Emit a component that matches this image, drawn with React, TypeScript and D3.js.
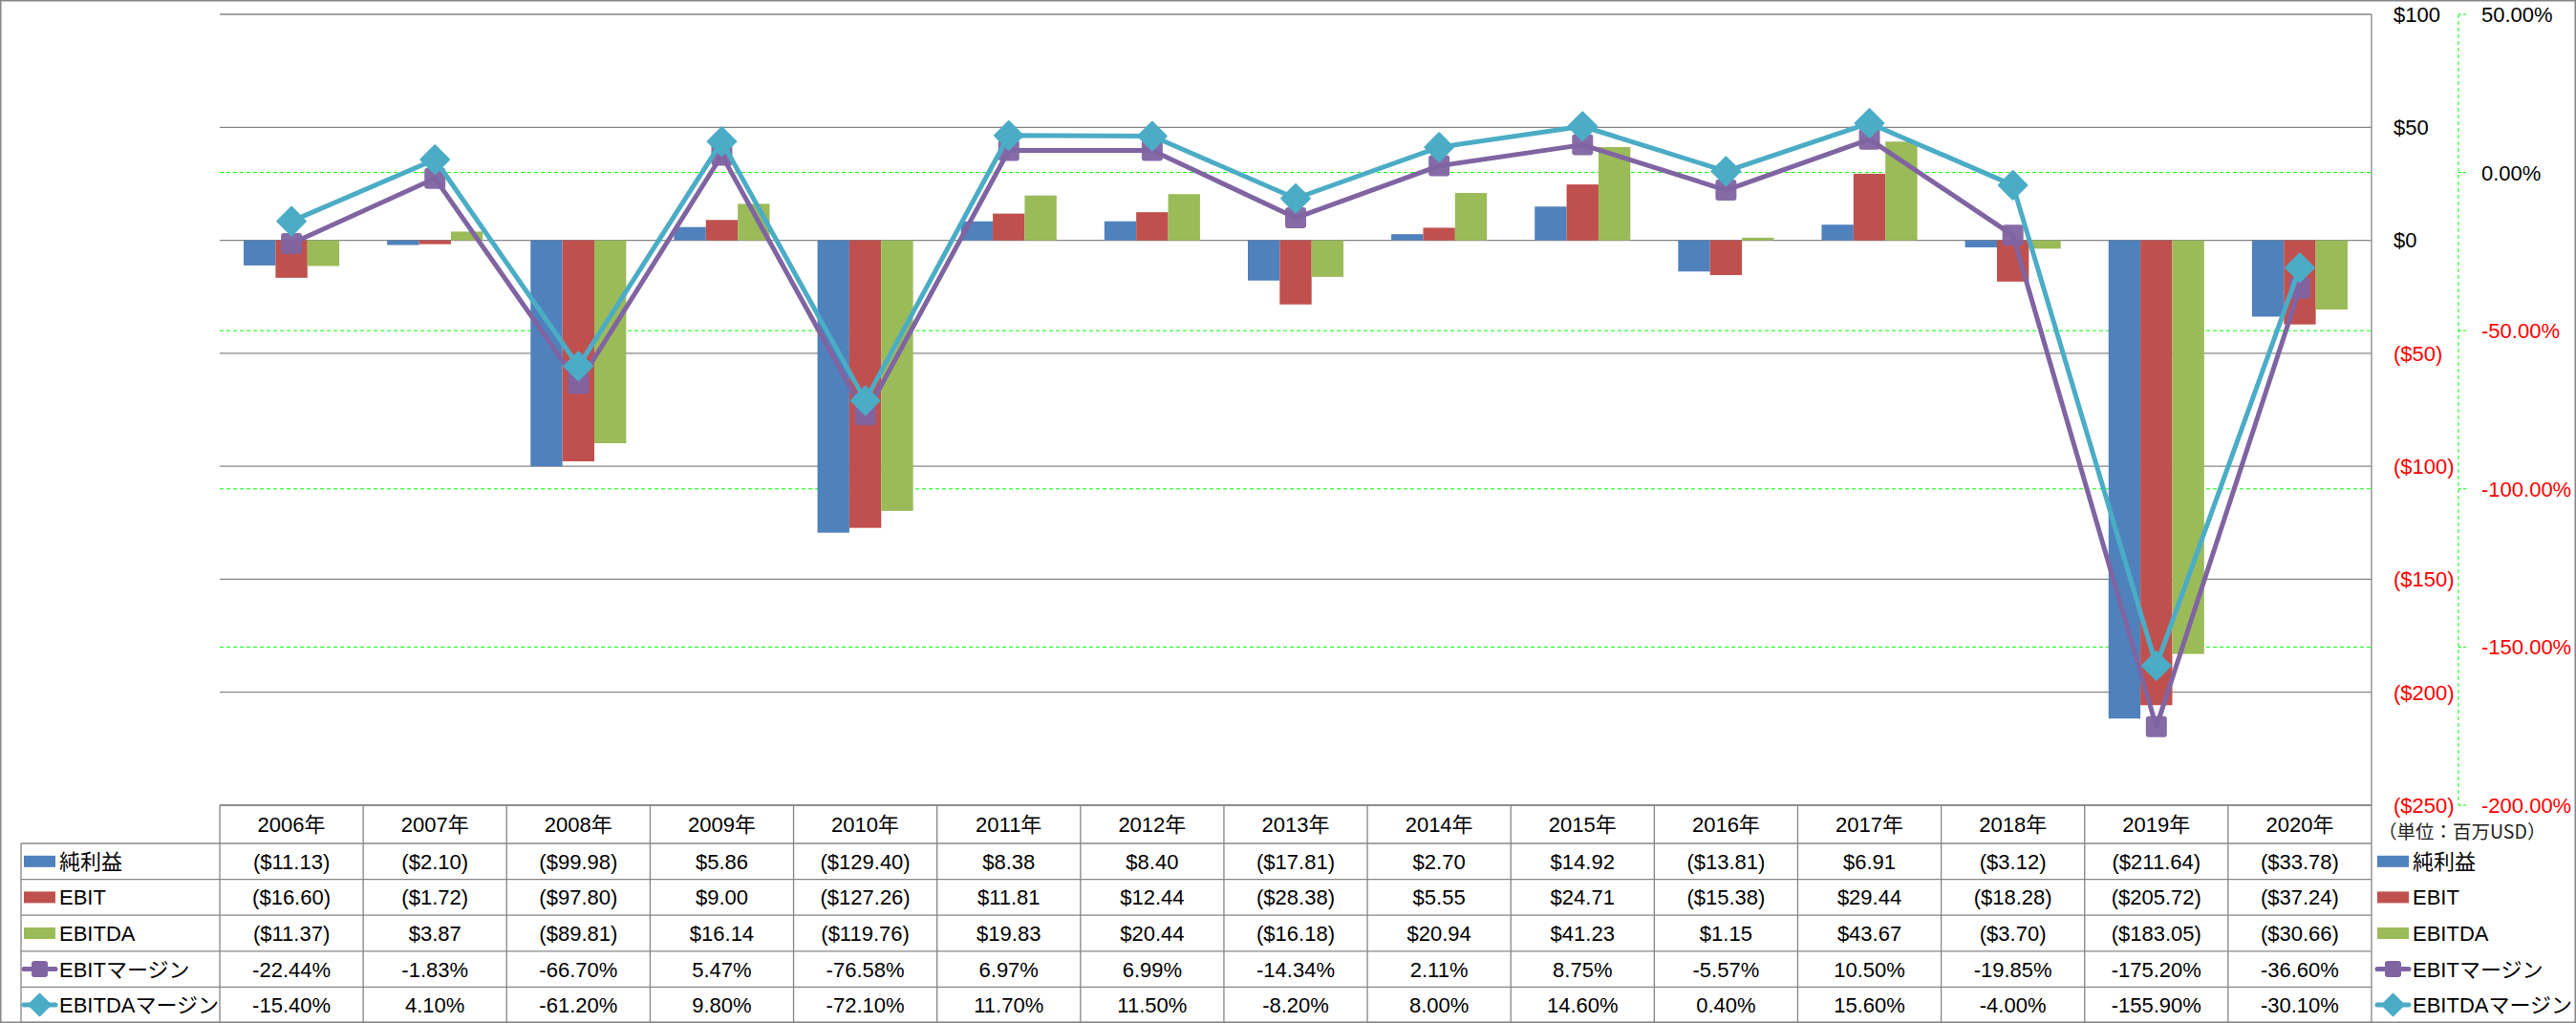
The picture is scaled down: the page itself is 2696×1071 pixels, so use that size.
import React from 'react';
import * as d3 from 'd3';

const years = ['2006年','2007年','2008年','2009年','2010年','2011年','2012年','2013年','2014年','2015年','2016年','2017年','2018年','2019年','2020年'];
const netIncome = [-11.13, -2.10, -99.98, 5.86, -129.40, 8.38, 8.40, -17.81, 2.70, 14.92, -13.81, 6.91, -3.12, -211.64, -33.78];
const ebit = [-16.60, -1.72, -97.80, 9.00, -127.26, 11.81, 12.44, -28.38, 5.55, 24.71, -15.38, 29.44, -18.28, -205.72, -37.24];
const ebitda = [-11.37, 3.87, -89.81, 16.14, -119.76, 19.83, 20.44, -16.18, 20.94, 41.23, 1.15, 43.67, -3.70, -183.05, -30.66];
const ebitMargin = [-22.44, -1.83, -66.70, 5.47, -76.58, 6.97, 6.99, -14.34, 2.11, 8.75, -5.57, 10.50, -19.85, -175.20, -36.60];
const ebitdaMargin = [-15.40, 4.10, -61.20, 9.80, -72.10, 11.70, 11.50, -8.20, 8.00, 14.60, 0.40, 15.60, -4.00, -155.90, -30.10];
const moneyTicks = [100, 50, 0, -50, -100, -150, -200, -250];
const pctTicks = [50, 0, -50, -100, -150, -200];
const barSeries = ['純利益', 'EBIT', 'EBITDA'];
const lineSeries = ['EBITマージン', 'EBITDAマージン'];
const unitLabel = '（単位：百万USD）';

const W = 2696, H = 1071;
const PL = 230, PR = 2482, PT = 15, PB = 843;
const COLORS = { net: '#4F81BD', ebit: '#C0504D', ebitda: '#9BBB59', em: '#8064A2', edm: '#4BACC6' };
const GRID = '#868686';
const GREEN = '#00FF00';
const FONT = '"Liberation Sans", "Noto Sans CJK JP", sans-serif';
const FS = 22;

const fmtMoney = (v: number) => (v < 0 ? `($${Math.abs(v).toFixed(2)})` : `$${v.toFixed(2)}`);
const fmtPct = (v: number) => `${v.toFixed(2)}%`;
const fmtTick = (v: number) => (v < 0 ? `($${Math.abs(v)})` : `$${v}`);

export default function App() {
  const x = d3.scaleBand<string>().domain(years).range([PL, PR]).padding(0);
  const bw = x.bandwidth();
  const xs = d3.scaleBand<string>().domain(barSeries).range([bw / 6, (bw * 5) / 6]).padding(0);
  const yL = d3.scaleLinear().domain([-250, 100]).range([PB, PT]);
  const yR = d3.scaleLinear().domain([-200, 50]).range([PB, PT]);
  const cx = (i: number) => (x(years[i]) as number) + bw / 2;

  const barData = [
    { name: barSeries[0], vals: netIncome, color: COLORS.net },
    { name: barSeries[1], vals: ebit, color: COLORS.ebit },
    { name: barSeries[2], vals: ebitda, color: COLORS.ebitda },
  ];
  const lineData = [
    { name: lineSeries[0], vals: ebitMargin, color: COLORS.em, marker: 'square' },
    { name: lineSeries[1], vals: ebitdaMargin, color: COLORS.edm, marker: 'diamond' },
  ];
  const line = d3.line<number>().x((_, i) => cx(i)).y((v) => yR(v));
  const diamond = d3.symbol().type(d3.symbolSquare).size(21 * 21)() as string;
  const diamondSmall = d3.symbol().type(d3.symbolSquare).size(16 * 16)() as string;

  const rowTops = [883, 920.6, 958.2, 995.8, 1033.4, 1070.5];
  const tableRows = [
    { vals: netIncome, fmt: fmtMoney },
    { vals: ebit, fmt: fmtMoney },
    { vals: ebitda, fmt: fmtMoney },
    { vals: ebitMargin, fmt: fmtPct },
    { vals: ebitdaMargin, fmt: fmtPct },
  ];
  const legendItems = [
    { name: barSeries[0], color: COLORS.net, kind: 'bar' },
    { name: barSeries[1], color: COLORS.ebit, kind: 'bar' },
    { name: barSeries[2], color: COLORS.ebitda, kind: 'bar' },
    { name: lineSeries[0], color: COLORS.em, kind: 'square' },
    { name: lineSeries[1], color: COLORS.edm, kind: 'diamond' },
  ];

  const renderKey = (item: any, x0: number, yc: number) => {
    if (item.kind === 'bar') {
      return <rect x={x0} y={yc - 6} width={33} height={12} fill={item.color} />;
    }
    return (
      <g>
        <line x1={x0} x2={x0 + 33} y1={yc} y2={yc} stroke={item.color} strokeWidth={5} strokeLinecap="round" />
        {item.kind === 'square' ? (
          <rect x={x0 + 16.5 - 8.5} y={yc - 8.5} width={17} height={17} rx={3} fill={item.color} />
        ) : (
          <path d={diamondSmall} transform={`translate(${x0 + 16.5},${yc}) rotate(45)`} fill={item.color} stroke={item.color} strokeWidth={2} strokeLinejoin="round" />
        )}
      </g>
    );
  };

  return (
    <svg width={W} height={H} style={{ position: 'absolute', left: 0, top: 0, display: 'block', background: '#fff' }} fontFamily={FONT}>
      <rect x={0} y={0} width={W} height={H} fill="#fff" />
      {moneyTicks.map((t) => (
        <line key={'g' + t} x1={PL} x2={PR} y1={yL(t)} y2={yL(t)} stroke={GRID} strokeWidth={1.3} />
      ))}
      {pctTicks.filter((t) => t !== 50 && t !== -200).map((t) => (
        <line key={'p' + t} x1={PL} x2={PR} y1={yR(t)} y2={yR(t)} stroke={GREEN} strokeWidth={1} strokeDasharray="4,3" />
      ))}
      {barData.map((s) => (
        <g key={s.name}>
          {s.vals.map((v, i) => (
            <rect
              key={i}
              x={(x(years[i]) as number) + (xs(s.name) as number)}
              y={Math.min(yL(v), yL(0))}
              width={xs.bandwidth()}
              height={Math.abs(yL(v) - yL(0))}
              fill={s.color}
            />
          ))}
        </g>
      ))}
      {lineData.map((s) => (
        <g key={s.name}>
          <path d={line(s.vals) as string} fill="none" stroke={s.color} strokeWidth={5} strokeLinejoin="round" strokeLinecap="round" />
          {s.vals.map((v, i) =>
            s.marker === 'square' ? (
              <rect key={i} x={cx(i) - 11} y={yR(v) - 11} width={22} height={22} rx={3} fill={s.color} opacity={0.95} />
            ) : (
              <path key={i} d={diamond} transform={`translate(${cx(i)},${yR(v)}) rotate(45)`} fill={s.color} stroke={s.color} strokeWidth={2} strokeLinejoin="round" />
            )
          )}
        </g>
      ))}
      <line x1={PR} x2={PR} y1={PT} y2={1070.5} stroke={GRID} strokeWidth={1.3} />
      {moneyTicks.map((t) => (
        <text key={'ml' + t} x={2505} y={yL(t)} dy="0.36em" fontSize={FS} fill={t < 0 ? '#FF0000' : '#000'}>
          {fmtTick(t)}
        </text>
      ))}
      <line x1={2573} x2={2573} y1={PT} y2={PB} stroke={GREEN} strokeWidth={1} strokeDasharray="4,3" />
      {pctTicks.map((t) => (
        <g key={'pt' + t}>
          <line x1={2573} x2={2581} y1={yR(t)} y2={yR(t)} stroke={GREEN} strokeWidth={1} strokeDasharray="3,2" />
          <text x={2597} y={yR(t)} dy="0.36em" fontSize={FS} fill={t < 0 ? '#FF0000' : '#000'}>
            {fmtPct(t)}
          </text>
        </g>
      ))}
      <text x={2489} y={871} dy="0.36em" fontSize={19.5} fill="#222" fontFamily='"Noto Sans CJK JP", sans-serif'>
        {unitLabel}
      </text>
      <g>
        <line x1={PL} x2={PR} y1={PB} y2={PB} stroke={GRID} strokeWidth={1.3} />
        {rowTops.map((y, k) => (
          <line key={'rt' + k} x1={22} x2={PR} y1={y} y2={y} stroke={GRID} strokeWidth={1.3} />
        ))}
        <line x1={22} x2={22} y1={rowTops[0]} y2={rowTops[5]} stroke={GRID} strokeWidth={1.3} />
        {years.map((yr, i) => (
          <line key={'vl' + i} x1={x(yr) as number} x2={x(yr) as number} y1={PB} y2={rowTops[5]} stroke={GRID} strokeWidth={1.3} />
        ))}
        {years.map((yr, i) => (
          <text key={'yr' + i} x={cx(i)} y={(PB + rowTops[0]) / 2} dy="0.36em" textAnchor="middle" fontSize={FS} fill="#000">
            {yr}
          </text>
        ))}
        {tableRows.map((r, k) =>
          r.vals.map((v, i) => (
            <text key={`c${k}-${i}`} x={cx(i)} y={(rowTops[k] + rowTops[k + 1]) / 2} dy="0.36em" textAnchor="middle" fontSize={FS} fill="#000">
              {r.fmt(v)}
            </text>
          ))
        )}
        {legendItems.map((it, k) => {
          const yc = (rowTops[k] + rowTops[k + 1]) / 2;
          return (
            <g key={'lg' + k}>
              {renderKey(it, 25, yc)}
              <text x={62} y={yc} dy="0.36em" fontSize={FS} fill="#000">{it.name}</text>
            </g>
          );
        })}
        {legendItems.map((it, k) => {
          const yc = (rowTops[k] + rowTops[k + 1]) / 2;
          return (
            <g key={'rg' + k}>
              {renderKey(it, 2488, yc)}
              <text x={2525} y={yc} dy="0.36em" fontSize={FS} fill="#000">{it.name}</text>
            </g>
          );
        })}
      </g>
      <rect x={0.75} y={0.75} width={W - 1.5} height={H - 1.5} fill="none" stroke={GRID} strokeWidth={1.5} />
    </svg>
  );
}
